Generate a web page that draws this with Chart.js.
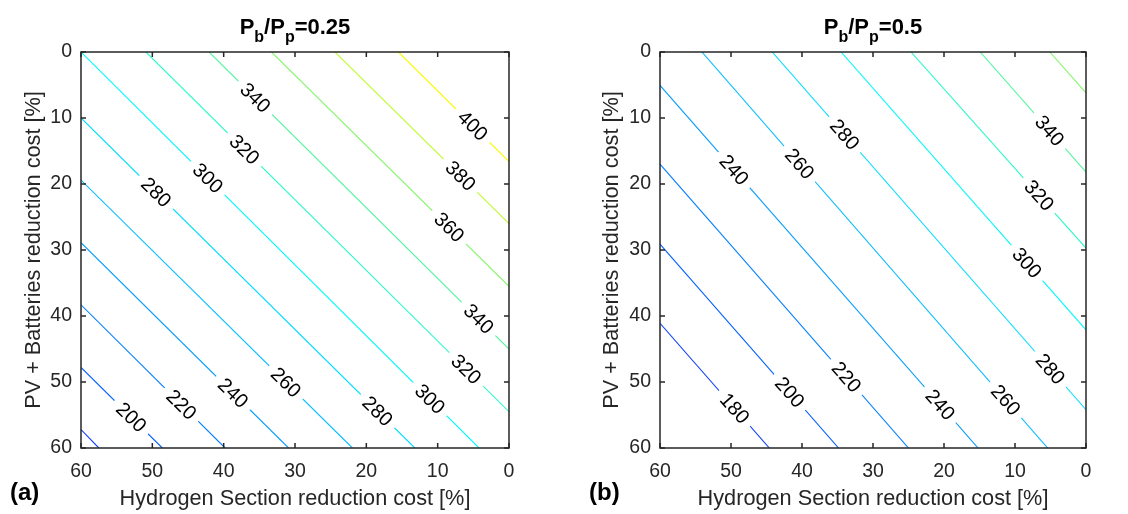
<!DOCTYPE html>
<html>
<head>
<meta charset="utf-8">
<script src="https://cdn.jsdelivr.net/npm/chart.js@4.4.1/dist/chart.umd.min.js"></script>
<style>
  html, body { margin: 0; padding: 0; background: #fff; }
  #wrap { position: relative; width: 1128px; height: 514px; }
  canvas { position: absolute; top: 0; }
</style>
</head>
<body>
<div id="wrap">
  <canvas id="chartA" width="564" height="514" style="left:0"></canvas>
  <canvas id="chartB" width="564" height="514" style="left:564px"></canvas>
</div>
<script>
// contour levels and where each line enters / leaves the box, [hydrogen %, pv %]
const levelsA = [180, 200, 220, 240, 260, 280, 300, 320, 340, 360, 380, 400];
const fromA = [[60, 57.2], [60, 47.8], [60, 38.3], [60, 28.9], [60, 19.4], [60, 10.0],
               [60, 0], [50.9, 0], [42.05, 0], [33.3, 0], [24.4, 0], [15.5, 0]];
const toA = [[57.5, 60], [48.6, 60], [39.8, 60], [30.9, 60], [21.95, 60], [13.2, 60],
             [4.2, 60], [0, 54.5], [0, 45.0], [0, 35.5], [0, 26.0], [0, 16.6]];
const labelValsA = [200, 220, 240, 260, 280, 280, 300, 300, 320, 320, 340, 340, 360, 380, 400];
const labelAtA = [[53.1, 55.5], [45.9, 53.4], [38.8, 51.8], [31.4, 50.2], [49.5, 21.3], [18.5, 54.5],
                  [42.4, 19.3], [11.2, 52.7], [37.4, 15.1], [6.3, 48.4], [35.8, 7.2], [4.6, 40.8],
                  [8.7, 26.9], [7.1, 19.1], [5.4, 11.5]];

const levelsB = [180, 200, 220, 240, 260, 280, 300, 320, 340, 360];
const fromB = [[60, 41.1], [60, 29.1], [60, 17.0], [60, 5.06], [54.1, 0],
               [44.2, 0], [34.5, 0], [24.65, 0], [14.9, 0], [5.1, 0]];
const toB = [[44.6, 60], [34.85, 60], [25.0, 60], [15.2, 60], [5.4, 60],
             [0, 54.2], [0, 42.1], [0, 29.7], [0, 18.2], [0, 6.2]];
const labelValsB = [180, 200, 220, 240, 240, 260, 260, 280, 280, 300, 320, 340];
const labelAtB = [[49.6, 54.1], [41.9, 51.7], [33.9, 49.4], [49.5, 17.8], [20.5, 53.4], [40.5, 17.1],
                  [11.5, 52.9], [34.3, 12.8], [5.4, 48.4], [8.9, 32.5], [7.0, 22.1], [5.2, 12.0]];

const tickValues = [0, 10, 20, 30, 40, 50, 60];

const FONT = '"Liberation Sans", Arial, Helvetica, sans-serif';
const INK = '#262626';

// line colour per level (blue -> cyan -> yellow)
const palette = {
  180: 'rgb(10,60,250)', 200: 'rgb(0,95,255)', 220: 'rgb(0,125,255)', 240: 'rgb(0,155,255)',
  260: 'rgb(0,188,255)', 280: 'rgb(0,220,255)', 300: 'rgb(0,250,250)', 320: 'rgb(40,250,200)',
  340: 'rgb(85,245,160)', 360: 'rgb(135,245,110)', 380: 'rgb(195,250,55)', 400: 'rgb(250,250,0)'
};

function makePanel(id, p) {
  const datasets = p.levels.map((lv, i) => ({
    data: [{x: p.from[i][0], y: p.from[i][1]}, {x: p.to[i][0], y: p.to[i][1]}],
    showLine: true,
    borderColor: palette[lv],
    borderWidth: 1.1,
    pointRadius: 0,
    fill: false
  }));

  const contourLabels = {
    id: 'contourLabels',
    afterDatasetsDraw(chart) {
      const ctx = chart.ctx, xs = chart.scales.x, ys = chart.scales.y;
      ctx.font = '20px ' + FONT;
      ctx.textAlign = 'center';
      ctx.textBaseline = 'middle';
      p.labelVals.forEach((v, k) => {
        const i = p.levels.indexOf(v);
        const ax = xs.getPixelForValue(p.from[i][0]), ay = ys.getPixelForValue(p.from[i][1]);
        const bx = xs.getPixelForValue(p.to[i][0]), by = ys.getPixelForValue(p.to[i][1]);
        const px = xs.getPixelForValue(p.labelAt[k][0]), py = ys.getPixelForValue(p.labelAt[k][1]);
        const dx = bx - ax, dy = by - ay;
        const t = ((px - ax) * dx + (py - ay) * dy) / (dx * dx + dy * dy);
        const txt = String(v);
        const w = ctx.measureText(txt).width;
        ctx.save();
        ctx.translate(ax + t * dx, ay + t * dy);
        ctx.rotate(Math.atan2(dy, dx));
        ctx.fillStyle = '#fff';
        ctx.fillRect(-w / 2 - 7, -4, w + 14, 8);
        ctx.fillStyle = '#000';
        ctx.fillText(txt, 0, 1);
        ctx.restore();
      });
    }
  };

  const frame = {
    id: 'frame',
    afterDraw(chart) {
      const ctx = chart.ctx, a = chart.chartArea, xs = chart.scales.x, ys = chart.scales.y;
      ctx.save();
      ctx.strokeStyle = INK;
      ctx.lineWidth = 1.5;
      ctx.strokeRect(a.left, a.top, a.right - a.left, a.bottom - a.top);
      ctx.beginPath();
      tickValues.forEach(v => {
        const x = xs.getPixelForValue(v), y = ys.getPixelForValue(v);
        ctx.moveTo(x, a.bottom); ctx.lineTo(x, a.bottom - 5);
        ctx.moveTo(x, a.top); ctx.lineTo(x, a.top + 5);
        ctx.moveTo(a.left, y); ctx.lineTo(a.left + 5, y);
        ctx.moveTo(a.right, y); ctx.lineTo(a.right - 5, y);
      });
      ctx.stroke();

      // title with subscripts: P_b/P_p=...
      const parts = [['P', 0], ['b', 1], ['/P', 0], ['p', 1], ['=' + p.ratio, 0]];
      const big = 'bold 22px ' + FONT, small = 'bold 16px ' + FONT;
      let total = 0;
      parts.forEach(q => { ctx.font = q[1] ? small : big; total += ctx.measureText(q[0]).width; });
      let x = (a.left + a.right) / 2 - total / 2;
      ctx.fillStyle = '#000';
      ctx.textAlign = 'left';
      ctx.textBaseline = 'alphabetic';
      parts.forEach(q => {
        ctx.font = q[1] ? small : big;
        ctx.fillText(q[0], x, q[1] ? 42 : 34);
        x += ctx.measureText(q[0]).width;
      });

      ctx.font = 'bold 24px ' + FONT;
      ctx.textBaseline = 'middle';
      ctx.fillText(p.tag, p.tagX, 493);
      ctx.restore();
    }
  };

  return new Chart(document.getElementById(id), {
    type: 'scatter',
    data: {datasets: datasets},
    plugins: [contourLabels, frame],
    options: {
      responsive: false,
      animation: false,
      events: [],
      layout: {padding: {left: 0, right: p.padRight, top: 52, bottom: 0}},
      plugins: {legend: {display: false}, tooltip: {enabled: false}},
      scales: {
        x: {
          type: 'linear', min: 0, max: 60, reverse: true,
          ticks: {stepSize: 10, color: INK, font: {family: FONT, size: 19.5}, padding: 12, maxRotation: 0},
          grid: {display: false, drawTicks: false},
          border: {display: false},
          title: {display: true, text: 'Hydrogen Section reduction cost [%]', color: INK,
                  font: {family: FONT, size: 21.7}, padding: {top: 0, bottom: 2}},
          afterFit(s) { s.height = 66; }
        },
        y: {
          type: 'linear', min: 0, max: 60, reverse: true,
          ticks: {stepSize: 10, color: INK, font: {family: FONT, size: 19.5}, padding: 9},
          grid: {display: false, drawTicks: false},
          border: {display: false},
          title: {display: true, text: 'PV + Batteries reduction cost [%]', color: INK,
                  font: {family: FONT, size: 21.7}, padding: {top: p.yTitlePad, bottom: 0}},
          afterFit(s) { s.width = p.yAxisW; }
        }
      }
    }
  });
}

makePanel('chartA', {
  levels: levelsA, from: fromA, to: toA, labelVals: labelValsA, labelAt: labelAtA,
  ratio: '0.25', tag: '(a)', tagX: 10, padRight: 55, yAxisW: 81, yTitlePad: 21
});
makePanel('chartB', {
  levels: levelsB, from: fromB, to: toB, labelVals: labelValsB, labelAt: labelAtB,
  ratio: '0.5', tag: '(b)', tagX: 25, padRight: 42, yAxisW: 96, yTitlePad: 35
});
</script>
</body>
</html>
